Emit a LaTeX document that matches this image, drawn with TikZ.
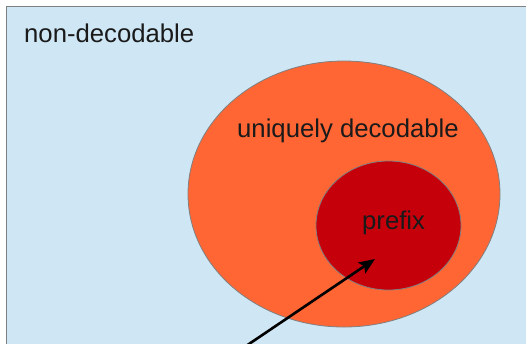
\documentclass[tikz,border=0pt]{standalone}
\usepackage{fontspec}
\setmainfont{Liberation Sans}
\usetikzlibrary{arrows.meta}
\definecolor{bgblue}{HTML}{CFE7F5}
\definecolor{orangefill}{HTML}{FF6633}
\definecolor{redfill}{HTML}{C5000B}
\definecolor{edgegray}{HTML}{808080}
\definecolor{txt}{HTML}{1A1A1A}
\begin{document}
\begin{tikzpicture}[x=1bp,y=-1bp,
  setlabel/.style={anchor=base west,inner sep=0pt,text=txt,font=\fontsize{25.7bp}{30bp}\selectfont},
  setshape/.style={draw=edgegray,line width=0.8bp}]
\useasboundingbox (0,0) rectangle (526,343);
\fill[white] (0,0) rectangle (526,343);
\path[setshape,fill=bgblue] (6,6) rectangle (540,360);
\path[setshape,fill=orangefill] (344,194) ellipse [x radius=156, y radius=133];
\path[setshape,fill=redfill] (388.5,225.5) ellipse [x radius=72.5, y radius=64.5];
\node[setlabel] (nd) at (24,42) {non-decodable};
\node[setlabel] (ud) at (237,137) {uniquely decodable};
\node[setlabel] (pf) at (362,229) {prefix};
\coordinate (tail) at (246,346);
\coordinate (tip) at (375,259);
\draw[line width=2.6bp,-{Stealth[length=16bp,width=13bp,inset=3bp]}] (tail) -- (tip);
\end{tikzpicture}
\end{document}
